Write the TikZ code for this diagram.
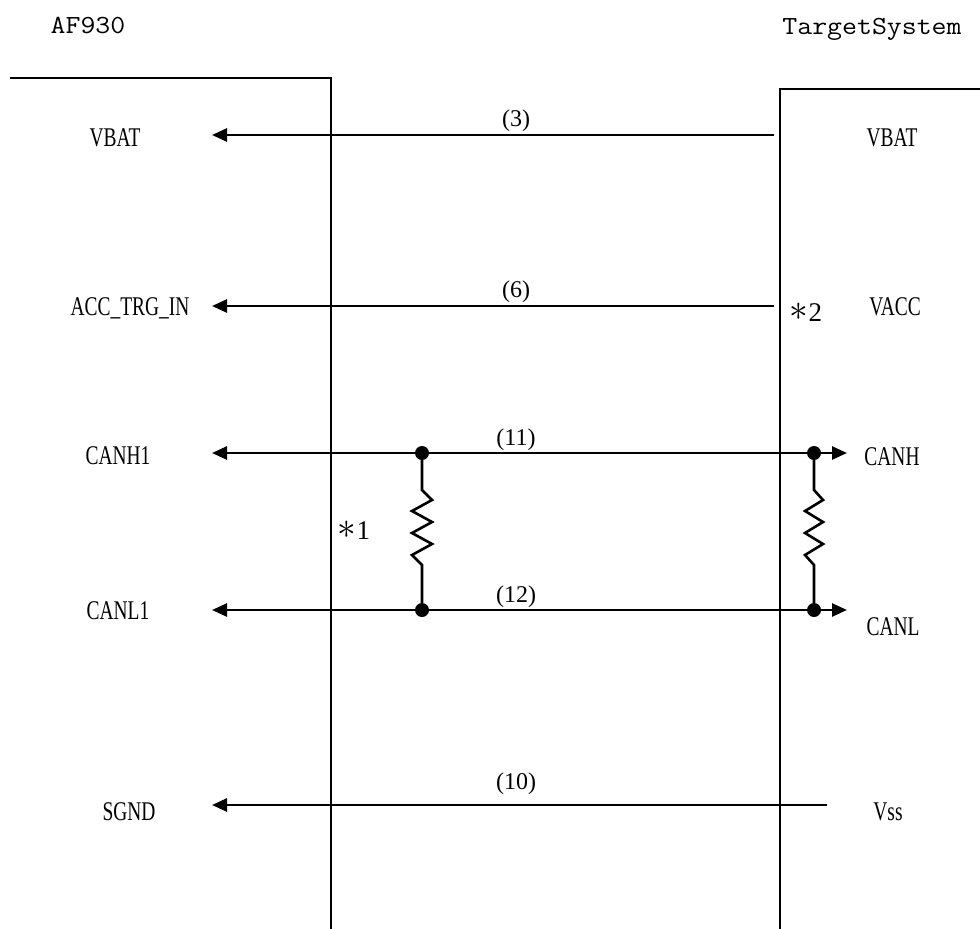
\documentclass[tikz,border=0pt]{standalone}
\usepackage{fontspec}
\setmainfont{Liberation Serif}
\usetikzlibrary{arrows.meta}
\tikzset{
  box/.style={line width=2pt},
  wire/.style={line width=2.6pt},
  sig/.style={wire,-{Triangle[length=15pt,width=13pt]}},
  bus/.style={wire,{Triangle[length=15pt,width=13pt]}-{Triangle[length=15pt,width=13pt]}},
  pin/.style={font=\fontsize{27}{27}\selectfont,xscale=0.72,inner sep=0pt},
  num/.style={font=\fontsize{24}{24}\selectfont,inner sep=0pt},
  star/.style={font=\fontsize{27}{27}\selectfont,inner sep=0pt},
  title/.style={font=\ttfamily\fontsize{29}{29}\selectfont,yscale=0.9,inner sep=0pt},
  dot/.style={circle,fill,inner sep=0pt,minimum size=14pt},
}
\newcommand{\bigast}{\raisebox{1pt}{\scalebox{1.5}{$\ast$}}}
\begin{document}
\begin{tikzpicture}[x=1pt,y=-1pt]
	\useasboundingbox (0,0) rectangle (980,929);
	
	\node[title] (af) at (88,25) {AF930};
	\node[title] (ts) at (872,29) {TargetSystem};
	
	\draw[box] (10,78) -- (331,78) -- (331,929);
	\draw[box] (980,89) -- (780,89) -- (780,929);
	
	\node[pin] (vbat1) at (115,138) {VBAT};
	\node[pin] (acc) at (130,308) {ACC\_TRG\_IN};
	\node[pin] (canh1) at (118,456) {CANH1};
	\node[pin] (canl1) at (118,611) {CANL1};
	\node[pin] (sgnd) at (129,812) {SGND};
	
	\node[pin] (vbat2) at (892,138) {VBAT};
	\node[pin] (vacc) at (895,307) {VACC};
	\node[pin] (canh) at (892,457) {CANH};
	\node[pin] (canl) at (893,627) {CANL};
	\node[pin] (vss) at (888,812) {Vss};
	
	\node[star] (s1) at (354,530) {\bigast1};
	\node[star] (s2) at (806,312) {\bigast2};
	
	\node[num] (n3) at (516,121) {(3)};
	\node[num] (n6) at (516,292) {(6)};
	\node[num] (n11) at (516,440) {(11)};
	\node[num] (n12) at (516,597) {(12)};
	\node[num] (n10) at (516,784) {(10)};
	
	\coordinate (a3) at (212,135);
	\coordinate (b3) at (774,135);
	\coordinate (a6) at (212,306);
	\coordinate (b6) at (774,306);
	\coordinate (a11) at (212,453);
	\coordinate (b11) at (847,453);
	\coordinate (a12) at (212,610);
	\coordinate (b12) at (847,610);
	\coordinate (a10) at (212,805);
	\coordinate (b10) at (827,805);
	
	\node[dot] (h1) at (422,453) {};
	\node[dot] (l1) at (422,610) {};
	\node[dot] (h2) at (814,453) {};
	\node[dot] (l2) at (814,610) {};
	
	\draw[sig] (b3)--(a3);
	\draw[sig] (b6)--(a6);
	\draw[bus] (a11)--(b11);
	\draw[bus] (a12)--(b12);
	\draw[sig] (b10)--(a10);
	
	\draw[wire] (h1) -- ++(0,37) -- ++(10,10) -- ++(-20,11) -- ++(20,11) -- ++(-20,11)
		-- ++(20,11) -- ++(-20,11) -- ++(10,10) -- (l1);
	\draw[wire] (h2) -- ++(0,37) -- ++(9,10) -- ++(-18,11) -- ++(18,11) -- ++(-18,11)
		-- ++(18,11) -- ++(-18,11) -- ++(9,10) -- (l2);
\end{tikzpicture}
\end{document}
